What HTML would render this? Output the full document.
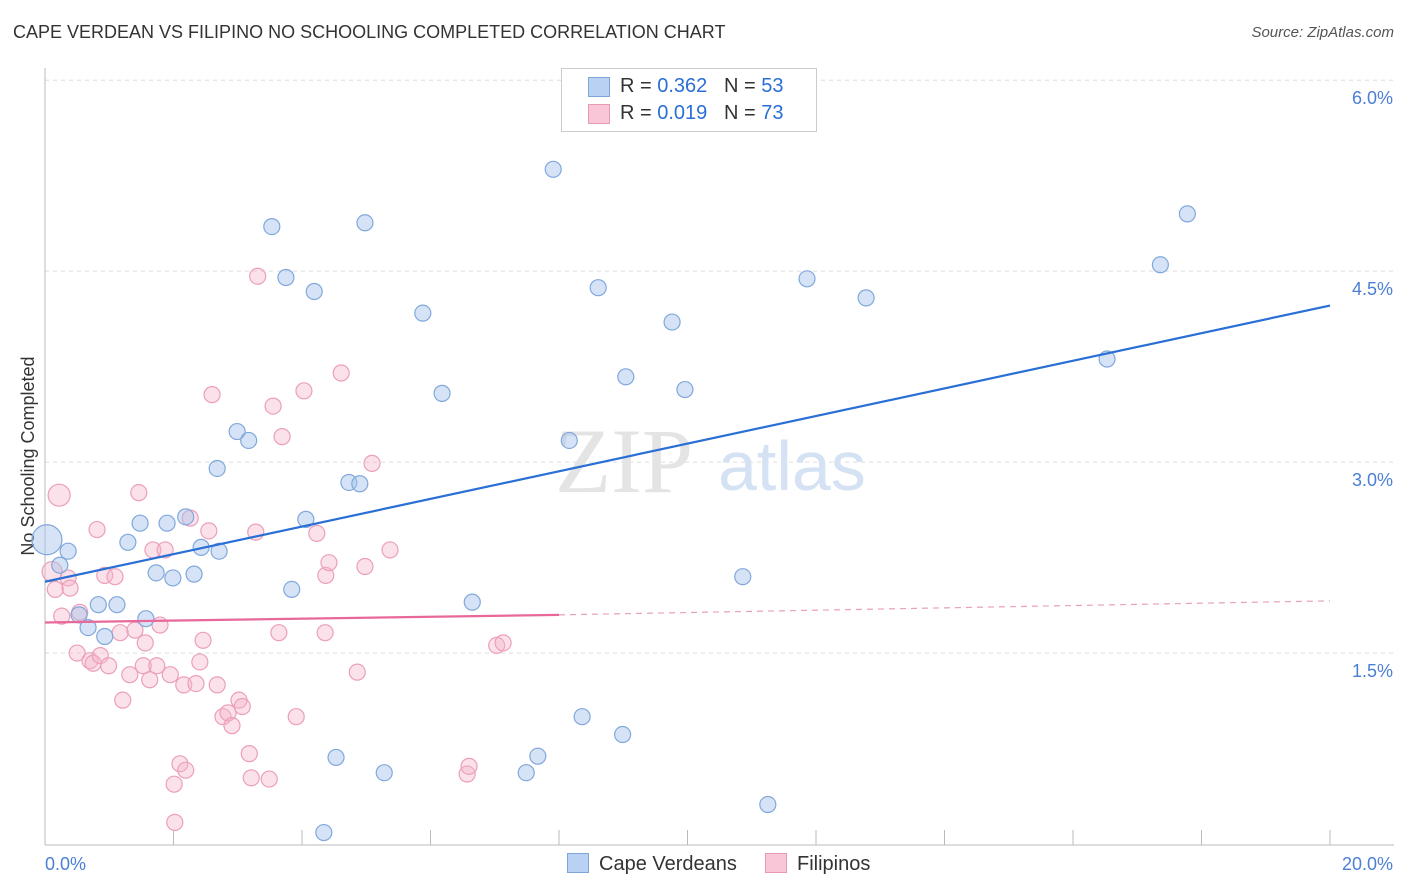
<!DOCTYPE html>
<html><head><meta charset="utf-8"><style>
body{margin:0;background:#fff;font-family:"Liberation Sans",sans-serif}
#wrap{position:relative;width:1406px;height:892px;overflow:hidden}
.t{position:absolute;white-space:nowrap}
</style></head><body>
<div id="wrap">
<div class="t" style="left:13px;top:22px;font-size:18px;color:#333">CAPE VERDEAN VS FILIPINO NO SCHOOLING COMPLETED CORRELATION CHART</div>
<div class="t" style="right:12px;top:24px;font-size:15px;color:#555;font-style:italic">Source: ZipAtlas.com</div>
<svg id="svg" width="1406" height="892" style="position:absolute;left:0;top:0"></svg>
</div>
<script>
const blueX=[0.03,0.36,0.23,0.53,0.67,0.83,1.12,0.93,1.29,1.48,1.57,1.73,1.90,1.99,2.19,2.32,2.43,2.71,2.68,2.99,3.17,3.53,3.75,4.19,3.84,4.06,4.73,4.90,4.98,4.34,4.53,5.28,5.88,6.18,6.65,7.49,7.67,7.91,8.16,8.36,8.61,8.99,9.04,9.76,9.96,10.86,11.25,11.86,12.78,16.53,17.36,17.78];
const blueY=[2.39,2.30,2.19,1.80,1.70,1.88,1.88,1.63,2.37,2.52,1.77,2.13,2.52,2.09,2.57,2.12,2.33,2.30,2.95,3.24,3.17,4.85,4.45,4.34,2.00,2.55,2.84,2.83,4.88,0.09,0.68,0.56,4.17,3.54,1.90,0.56,0.69,5.30,3.17,1.00,4.37,0.86,3.67,4.10,3.57,2.10,0.31,4.44,4.29,3.81,4.55,4.95];
const pinkX=[0.22,0.11,0.16,0.26,0.36,0.39,0.54,0.50,0.70,0.81,0.75,0.86,0.93,0.99,1.09,1.17,1.21,1.32,1.40,1.46,1.56,1.53,1.63,1.68,1.74,1.79,1.87,1.95,2.01,2.02,2.10,2.19,2.16,2.26,2.35,2.41,2.46,2.55,2.60,2.68,2.77,2.85,2.91,3.02,3.07,3.18,3.21,3.28,3.31,3.49,3.55,3.64,3.69,3.91,4.03,4.23,4.36,4.37,4.42,4.61,4.86,4.98,5.09,5.37,6.57,6.60,7.03,7.13];
const pinkY=[2.74,2.14,2.00,1.79,2.09,2.01,1.82,1.50,1.44,2.47,1.42,1.48,2.11,1.40,2.10,1.66,1.13,1.33,1.68,2.76,1.58,1.40,1.29,2.31,1.40,1.72,2.31,1.33,0.47,0.17,0.63,0.58,1.25,2.56,1.26,1.43,1.60,2.46,3.53,1.25,1.00,1.03,0.93,1.13,1.08,0.71,0.52,2.45,4.46,0.51,3.44,1.66,3.20,1.00,3.56,2.44,1.66,2.11,2.21,3.70,1.35,2.18,2.99,2.31,0.55,0.61,1.56,1.58];
const blueR=[15,8,8,8,8,8,8,8,8,8,8,8,8,8,8,8,8,8,8,8,8,8,8,8,8,8,8,8,8,8,8,8,8,8,8,8,8,8,8,8,8,8,8,8,8,8,8,8,8,8,8,8];
const blueTrend=[2.06,4.23];
const pinkTrend=[1.74,1.80,1.91];
const NS="http://www.w3.org/2000/svg",svg=document.getElementById('svg');
const X=v=>45+v*64.25, Y=v=>844-v*127.3;
function mk(t,a,p){const e=document.createElementNS(NS,t);for(const k in a)e.setAttribute(k,a[k]);(p||svg).appendChild(e);return e;}
// grid
[1.5,3,4.5,6].forEach((v,i)=>{const l=mk('line',{x1:45,x2:1394,y1:Y(v),y2:Y(v),stroke:'#ddd','stroke-dasharray':'4,4'});


const t=mk('text',{x:1393,y:Y(v)+24,'text-anchor':'end','font-size':18,fill:'#4a7fd4'});t.textContent=v.toFixed(1)+'%';

});
mk('line',{x1:45,x2:45,y1:68,y2:845,stroke:'#bbb'});
mk('line',{x1:45,x2:1394,y1:845,y2:845,stroke:'#bbb'});
for(let i=0;i<=10;i++){const l=mk('line',{x1:X(i*2),x2:X(i*2),y1:830,y2:845,stroke:'#bbb'});

}
const xl=mk('text',{x:45,y:870,'font-size':18,fill:'#4a7fd4'});xl.textContent='0.0%';


const xr=mk('text',{x:1393,y:870,'text-anchor':'end','font-size':18,fill:'#4a7fd4'});xr.textContent='20.0%';


const yt=mk('text',{x:34,y:456,'text-anchor':'middle','font-size':18,fill:'#333',transform:'rotate(-90 34 456)'});yt.textContent='No Schooling Completed';


// watermark
const w1=mk('text',{x:555,y:492,'font-size':92,fill:'#e4e4e4','font-family':'Liberation Serif',transform:'scale(1,1)'});w1.textContent='ZIP';


const w2=mk('text',{x:718,y:490,'font-size':70,fill:'#d5e2f4'});w2.textContent='atlas';


// points
pinkX.forEach((x,i)=>{const c=mk('circle',{cx:X(x),cy:Y(pinkY[i]),r:i==0?11:(i==1?10:8),fill:'rgba(246,183,203,0.4)',stroke:'#ec9fb8','stroke-width':1.2});

});
blueX.forEach((x,i)=>{const c=mk('circle',{cx:X(x),cy:Y(blueY[i]),r:blueR[i],fill:'rgba(163,193,236,0.45)',stroke:'#80a8dc','stroke-width':1.2});

});
const bt=mk('line',{x1:X(0),y1:Y(blueTrend[0]),x2:X(20),y2:Y(blueTrend[1]),stroke:'#2a6fd6','stroke-width':2.2});


const pt=mk('line',{x1:X(0),y1:Y(pinkTrend[0]),x2:X(8),y2:Y(pinkTrend[1]),stroke:'#e8689a','stroke-width':2.2});


const pd=mk('line',{x1:X(8),y1:Y(pinkTrend[1]),x2:X(20),y2:Y(pinkTrend[2]),stroke:'#e8a0bb','stroke-width':1.2,'stroke-dasharray':'6,5'});


</script>
<div class="t" style="left:561px;top:68px;width:254px;height:62px;border:1px solid #ccc;background:#fff;font-size:20px;color:#333">
<div style="position:absolute;left:26px;top:8px;width:20px;height:18px;background:#b9d1f2;border:1px solid #7fa6d9"></div>
<div style="position:absolute;left:58px;top:6px">R = <span style="color:#2a6fd6">0.362</span>&nbsp;&nbsp;&nbsp;N = <span style="color:#2a6fd6">53</span></div>
<div style="position:absolute;left:26px;top:35px;width:20px;height:18px;background:#f8c6d6;border:1px solid #e89ab3"></div>
<div style="position:absolute;left:58px;top:33px">R = <span style="color:#2a6fd6">0.019</span>&nbsp;&nbsp;&nbsp;N = <span style="color:#2a6fd6">73</span></div>
</div>
<div class="t" style="left:567px;top:853px;font-size:20px;color:#333"><span style="display:inline-block;width:20px;height:18px;background:#b9d1f2;border:1px solid #7fa6d9;vertical-align:-3px;margin-right:10px"></span>Cape Verdeans</div>
<div class="t" style="left:765px;top:853px;font-size:20px;color:#333"><span style="display:inline-block;width:20px;height:18px;background:#f8c6d6;border:1px solid #e89ab3;vertical-align:-3px;margin-right:10px"></span>Filipinos</div>
</body></html>
